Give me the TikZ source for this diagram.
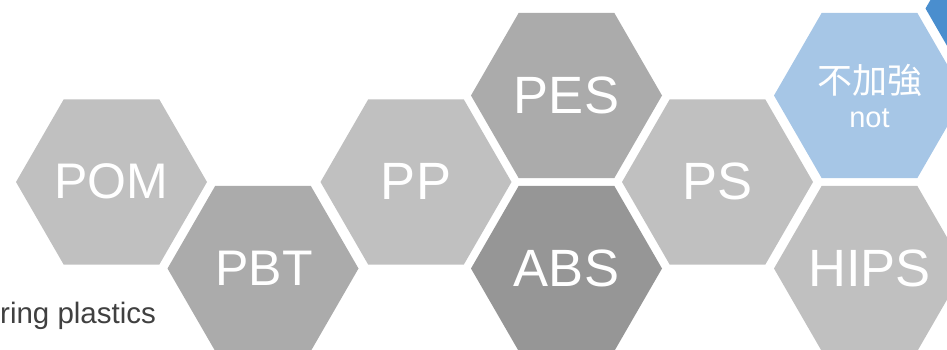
\documentclass[tikz,border=0pt]{standalone}
\usepackage{fontspec}
\setmainfont{Liberation Sans}
\newfontfamily\cjkfont{Noto Sans CJK TC}
\usetikzlibrary{shapes.geometric}
\definecolor{hexlight}{HTML}{C0C0C0}
\definecolor{hexmid}{HTML}{ABABAB}
\definecolor{hexdark}{HTML}{969696}
\definecolor{hexblue}{HTML}{A6C6E6}
\definecolor{hexdeepblue}{HTML}{4A8ECE}
\definecolor{captiongray}{HTML}{404040}
\begin{document}
\begin{tikzpicture}[x=1pt,y=-1pt,
  hexbox/.style={regular polygon, regular polygon sides=6, minimum size=191pt,
    inner sep=0pt, outer sep=0pt, draw=none, fill=#1},
  hexlabel/.style={anchor=base, text=white, inner sep=0pt,
    font=\fontsize{52.5}{60}\selectfont},
  hexlabelsmall/.style={anchor=base, text=white, inner sep=0pt,
    font=\fontsize{50}{58}\selectfont}]
\useasboundingbox (0,0) rectangle (947,350);
\clip (0,0) rectangle (947,350);
% hexagons
\node[hexbox=hexlight] (hpom) at (111.5,182) {};
\node[hexbox=hexmid] (hpbt) at (263,268.5) {};
\node[hexbox=hexlight] (hpp) at (416,182) {};
\node[hexbox=hexmid] (hpes) at (566.5,95.5) {};
\node[hexbox=hexdark] (habs) at (566.5,268.5) {};
\node[hexbox=hexlight] (hps) at (717.5,182) {};
\node[hexbox=hexblue] (hnot) at (869.5,95.5) {};
\node[hexbox=hexlight] (hhips) at (869.5,268.5) {};
\node[hexbox=hexdeepblue] (hextra) at (1021,8.5) {};
% labels
\node[hexlabelsmall] (tpom) at (111.5,198) {POM};
\node[hexlabelsmall] (tpbt) at (264,285) {PBT};
\node[hexlabel] (tpp) at (416,199.5) {PP};
\node[hexlabel] (tpes) at (566.5,113.5) {PES};
\node[hexlabel] (tabs) at (566.5,286.5) {ABS};
\node[hexlabel] (tps) at (717.5,199.5) {PS};
\node[hexlabel] (thips) at (869.5,286.5) {HIPS};
\node[anchor=base, text=white, inner sep=0pt, font=\cjkfont\fontsize{35}{40}\selectfont] (tcjk) at (869.5,94) {不加強};
\node[anchor=base, text=white, inner sep=0pt, font=\fontsize{29}{34}\selectfont] (tnot) at (869.5,128) {not};
% caption fragment
\node[anchor=base west, text=captiongray, inner sep=0pt, font=\fontsize{29.5}{34}\selectfont] (caption) at (0,323) {ring plastics};
\end{tikzpicture}
\end{document}
